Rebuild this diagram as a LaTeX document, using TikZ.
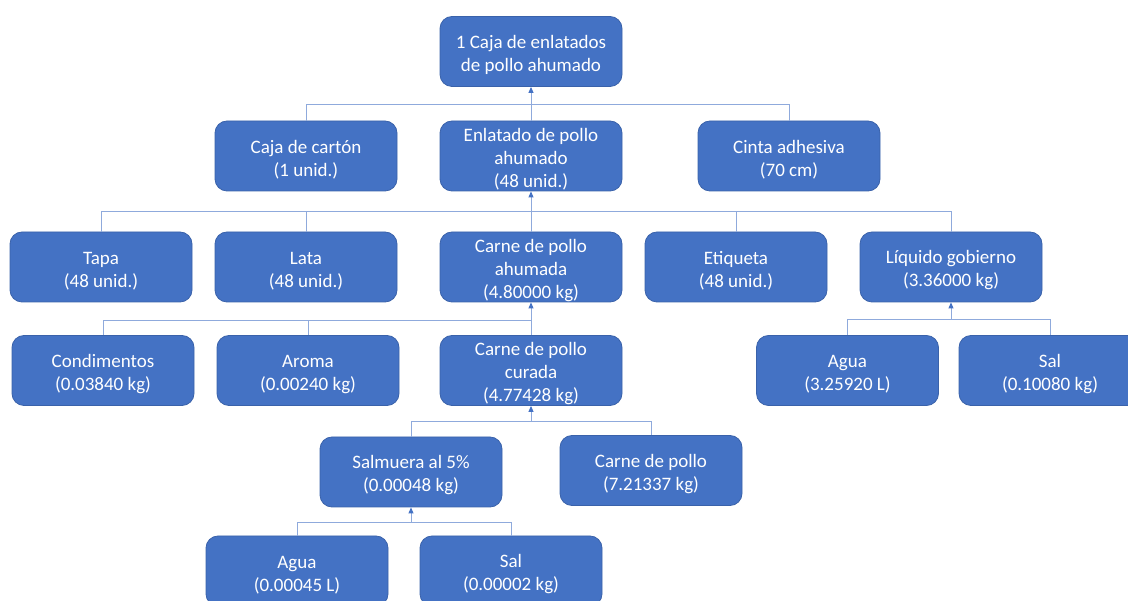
\documentclass[tikz,border=0pt]{standalone}
\usepackage{fontspec}
\setmainfont{Carlito}
\usetikzlibrary{arrows.meta}
\definecolor{boxfill}{HTML}{4472C4}
\definecolor{boxline}{HTML}{3A62AA}
\definecolor{linkline}{HTML}{8FAADC}
\definecolor{tipcol}{HTML}{4472C4}
% taller first line, so the text sits a little lower in its box
\newcommand\toprow{\rule{0pt}{20pt}}
\tikzset{
  blk/.style={draw=boxline, line width=0.8pt, fill=boxfill, rounded corners=12pt,
    text=white, minimum width=182pt, minimum height=70pt, inner sep=0pt,
    align=center, font=\fontsize{19}{23}\selectfont},
  link/.style={draw=linkline, line width=0.9pt},
  uplink/.style={link, -{Triangle[length=6pt,width=5pt,fill=tipcol,color=tipcol]}}
}
\begin{document}
\begin{tikzpicture}[x=1pt,y=-1pt]
\useasboundingbox (0,0) rectangle (1128,601);
\begin{scope}
\clip (0,0) rectangle (1128,601);
% level 1
\node[blk] (top) at (531,51.5) {\toprow 1 Caja de enlatados\\de pollo ahumado};
% level 2
\node[blk] (caja)  at (306,156) {\toprow Caja de cartón\\(1 unid.)};
\node[blk] (enl)   at (531,156) {\toprow Enlatado de pollo\\ahumado\\(48 unid.)};
\node[blk] (cinta) at (789,156) {\toprow Cinta adhesiva\\(70 cm)};
% level 3
\node[blk] (tapa) at (101,267) {\toprow Tapa\\(48 unid.)};
\node[blk] (lata) at (306,267) {\toprow Lata\\(48 unid.)};
\node[blk] (cah)  at (531,267) {\toprow Carne de pollo\\ahumada\\(4.80000 kg)};
\node[blk] (etiq) at (736,267) {\toprow Etiqueta\\(48 unid.)};
\node[blk] (liq)  at (951,267) {\toprow Líquido gobierno\\(3.36000 kg)};
% level 4
\node[blk] (cond)  at (103,370.5)   {\toprow Condimentos\\(0.03840 kg)};
\node[blk] (aroma) at (308,370.5)   {\toprow Aroma\\(0.00240 kg)};
\node[blk] (cur)   at (531,370.5)   {\toprow Carne de pollo\\curada\\(4.77428 kg)};
\node[blk] (aguaL) at (847.5,370.5) {\toprow Agua\\(3.25920 L)};
\node[blk] (salL)  at (1050,370.5)  {\toprow Sal\\(0.10080 kg)};
% level 5
\node[blk] (salm) at (411,472)   {\toprow Salmuera al 5\%\\(0.00048 kg)};
\node[blk] (cpol) at (651,470.5) {\toprow Carne de pollo\\(7.21337 kg)};
% level 6
\node[blk] (aguaS) at (297,571) {\toprow Agua\\(0.00045 L)};
\node[blk] (salS)  at (511,571) {\toprow Sal\\(0.00002 kg)};
\end{scope}

% junction points on each bus line
\coordinate (jTop) at (531,104);
\coordinate (jEnl) at (531,211);
\coordinate (jCah) at (531,320);
\coordinate (jLiq) at (951,319);
\coordinate (jCur) at (531,421);
\coordinate (jSalm) at (411,522);

% box of cans
\draw[link] (caja.north) |- (jTop);
\draw[link] (cinta.north) |- (jTop);
\draw[uplink] (enl.north) -- (top.south);
% one can
\draw[link] (tapa.north) |- (jEnl);
\draw[link] (lata.north) |- (jEnl);
\draw[link] (etiq.north) |- (jEnl);
\draw[link] (liq.north) |- (jEnl);
\draw[uplink] (cah.north) -- (enl.south);
% smoked meat
\draw[link] (cond.north) |- (jCah);
\draw[link] (aroma.north) |- (jCah);
\draw[uplink] (cur.north) -- (cah.south);
% covering liquid
\draw[link] (aguaL.north) |- (jLiq);
\draw[link] (salL.north) |- (jLiq);
\draw[uplink] (jLiq) -- (liq.south);
% cured meat
\draw[link] (salm.north) |- (jCur);
\draw[link] (cpol.north) |- (jCur);
\draw[uplink] (jCur) -- (cur.south);
% brine
\draw[link] (aguaS.north) |- (jSalm);
\draw[link] (salS.north) |- (jSalm);
\draw[uplink] (jSalm) -- (salm.south);
\end{tikzpicture}
\end{document}
